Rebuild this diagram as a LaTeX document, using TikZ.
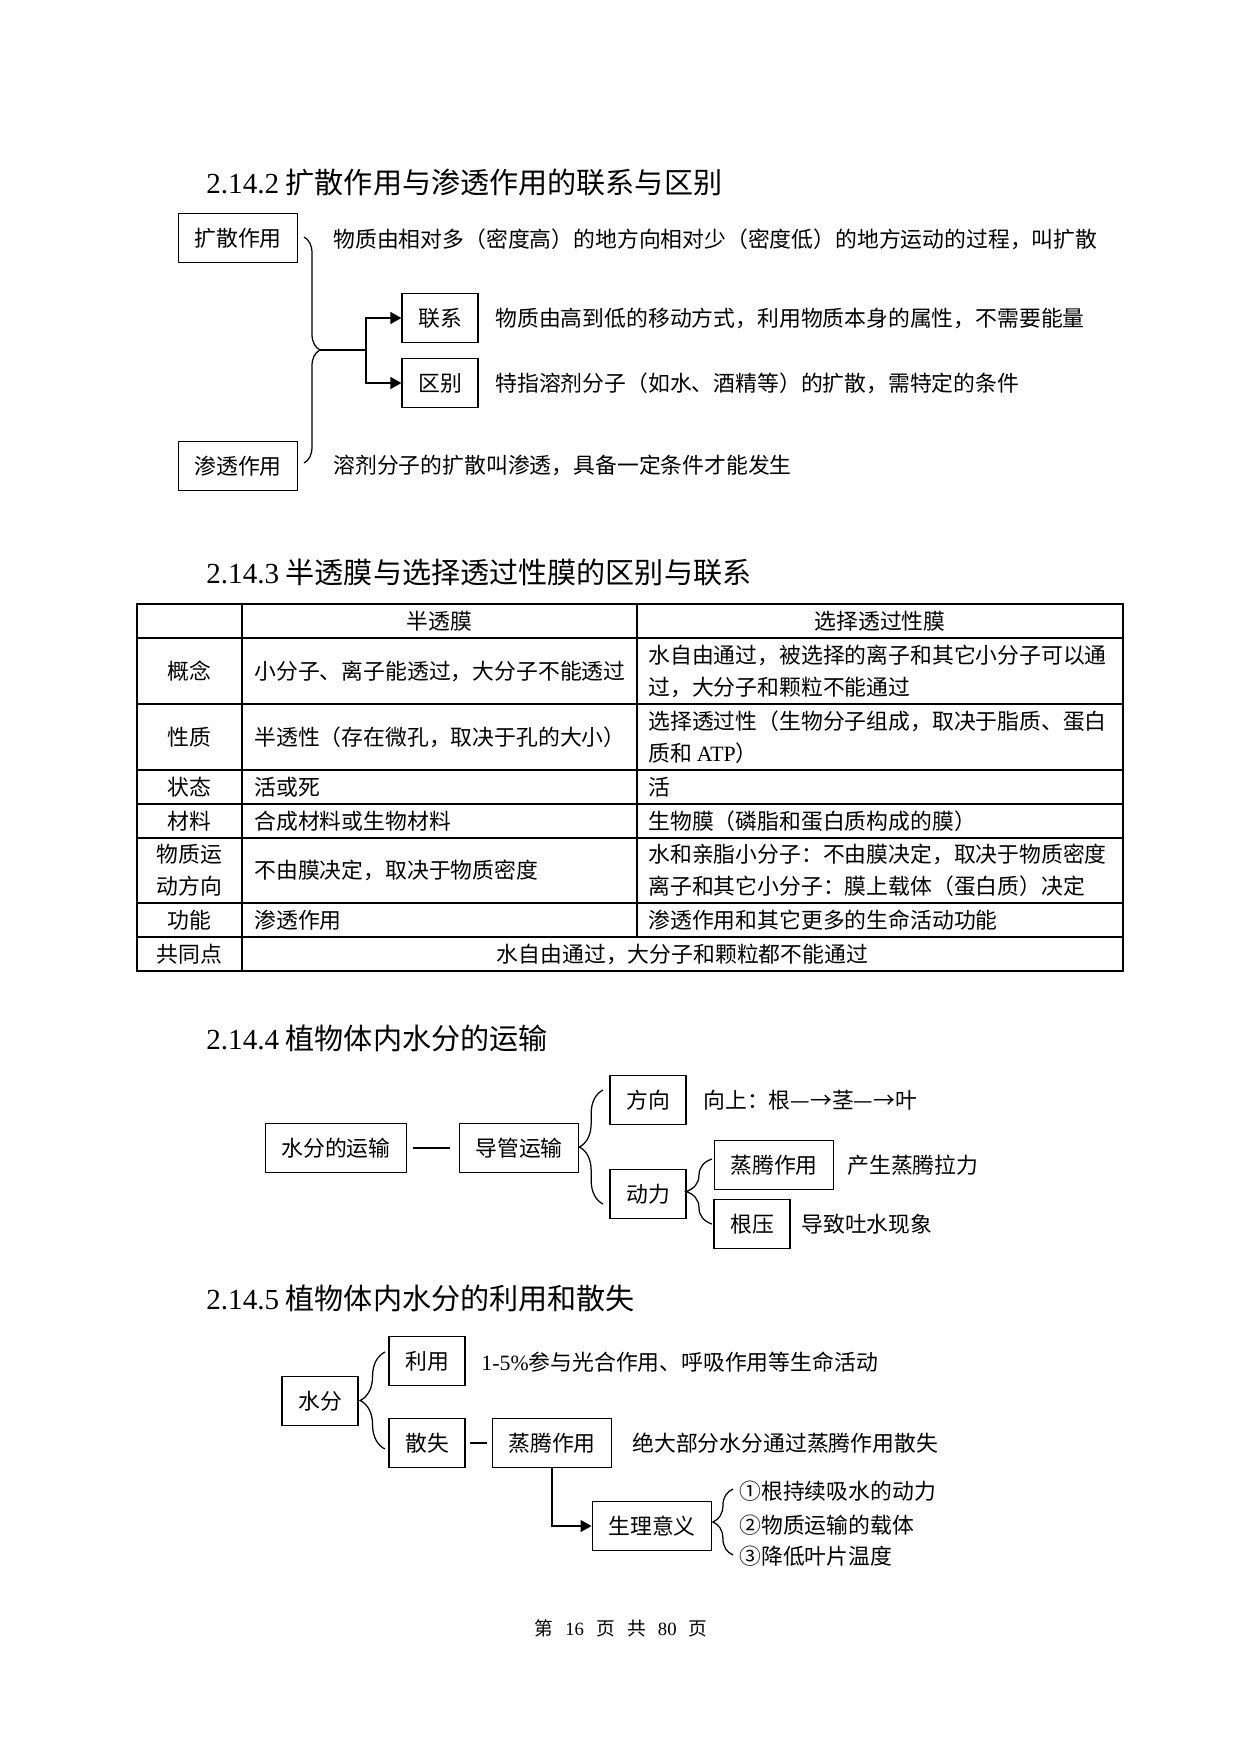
\documentclass[tikz,border=0pt]{standalone}
\usepackage{fontspec}
\setmainfont{Noto Sans CJK SC}
\newfontfamily\tnr{Liberation Serif}
\usetikzlibrary{arrows.meta,decorations.pathreplacing}
\newcommand{\wuhao}{\fontsize{10.5pt}{15.4pt}\selectfont}
\newcommand{\sihao}{\fontsize{14pt}{18pt}\selectfont}

\begin{document}
\begin{tikzpicture}[x=0.016908cm,y=-0.016908cm,
    box/.style={draw,line width=0.75pt,minimum height=0.83cm,inner xsep=0.27cm,inner ysep=0pt,font=\wuhao},
    txt/.style={anchor=west,inner sep=0pt,font=\wuhao},
    ttl/.style={anchor=west,inner sep=0pt,font=\sihao},
    cell/.style={inner sep=0pt,font=\wuhao},
    brc/.style={decorate,decoration={brace,amplitude=#1},line width=0.6pt},
    brc/.default=0.3cm,
    >={Triangle[length=5.3pt,width=5.7pt]}]
\useasboundingbox (0,0) rectangle (1242,1757);

% 2.14.2
\node[ttl] (h1) at (206,182) {{\tnr 2.14.2} 扩散作用与渗透作用的联系与区别};
\begin{scope}[every node/.style=box]
    \node (ks) at (238,238) {扩散作用};
    \node (st) at (238,466) {渗透作用};
    \node (lx) at (440,318) {联系};
    \node (qb) at (440,383) {区别};
\end{scope}
\begin{scope}[every node/.style=txt]
    \node (ks-t) at (333,239) {物质由相对多（密度高）的地方向相对少（密度低）的地方运动的过程，叫扩散};
    \node (lx-t) at (495,318) {物质由高到低的移动方式，利用物质本身的属性，不需要能量};
    \node (qb-t) at (495,383) {特指溶剂分子（如水、酒精等）的扩散，需特定的条件};
    \node (st-t) at (333,465) {溶剂分子的扩散叫渗透，具备一定条件才能发生};
\end{scope}
\coordinate (b1a) at (304,237);
\coordinate (b1b) at (304,463);
\coordinate (b1t) at (320,350);
\coordinate (b1j) at (366,350);
\draw[brc=0.27cm] (b1a) -- (b1b);
\begin{scope}[line width=0.75pt]
    \draw (b1t) -- (b1j);
    \draw[->] (b1j) |- (lx.west);
    \draw[->] (b1j) |- (qb.west);
\end{scope}

% 2.14.3
\node[ttl] (h2) at (206,572) {{\tnr 2.14.3} 半透膜与选择透过性膜的区别与联系};
\begin{scope}[line width=0.6pt]
    \draw (137,604) rectangle (1123,971);
    \foreach \y in {638,704,770,804,838,903,937}
        \draw (137,\y) -- (1123,\y);
    \draw (242,604) -- (242,971);
    \draw (637,604) -- (637,937);
\end{scope}
\begin{scope}[every node/.style=cell]
    \node (m1) at (439.5,621) {半透膜};
    \node (m2) at (880,621) {选择透过性膜};
    \node (k1) at (189.5,671) {概念};
    \node (k2) at (189.5,737) {性质};
    \node (k3) at (189.5,787) {状态};
    \node (k4) at (189.5,821) {材料};
    \node[align=center] (k5) at (189.5,870.5) {物质运\\动方向};
    \node (k6) at (189.5,920) {功能};
    \node (k7) at (189.5,954) {共同点};
\end{scope}
\begin{scope}[every node/.style={cell,anchor=west,align=left}]
    \node (a1) at (254,671) {小分子、离子能透过，大分子不能透过};
    \node (a2) at (254,737) {半透性（存在微孔，取决于孔的大小）};
    \node (a3) at (254,787) {活或死};
    \node (a4) at (254,821) {合成材料或生物材料};
    \node (a5) at (254,870.5) {不由膜决定，取决于物质密度};
    \node (a6) at (254,920) {渗透作用};
    \node (b1) at (648,671) {水自由通过，被选择的离子和其它小分子可以通\\过，大分子和颗粒不能通过};
    \node (b2) at (648,737) {选择透过性（生物分子组成，取决于脂质、蛋白\\质和 {\tnr ATP}）};
    \node (b3) at (648,787) {活};
    \node (b4) at (648,821) {生物膜（磷脂和蛋白质构成的膜）};
    \node (b5) at (648,870.5) {水和亲脂小分子：不由膜决定，取决于物质密度\\离子和其它小分子：膜上载体（蛋白质）决定};
    \node (b6) at (648,920) {渗透作用和其它更多的生命活动功能};
\end{scope}
\node[cell] (c7) at (682.5,954) {水自由通过，大分子和颗粒都不能通过};

% 2.14.4
\node[ttl] (h3) at (206,1038) {{\tnr 2.14.4} 植物体内水分的运输};
\begin{scope}[every node/.style=box]
    \node (sfys) at (336,1148) {水分的运输};
    \node (dgys) at (519,1148) {导管运输};
    \node (fx) at (648,1100) {方向};
    \node (dl) at (648,1194) {动力};
    \node (zt) at (774,1165) {蒸腾作用};
    \node (gy) at (752,1224) {根压};
\end{scope}
\begin{scope}[every node/.style=txt]
    \node (fx-t) at (703,1100) {向上：根—→茎—→叶};
    \node (zt-t) at (847,1165) {产生蒸腾拉力};
    \node (gy-t) at (801,1224) {导致吐水现象};
\end{scope}
\coordinate (b2a) at (603,1204);
\coordinate (b2b) at (603,1090);
\coordinate (b3a) at (712,1224);
\coordinate (b3b) at (712,1159);
\draw[line width=0.75pt,shorten <=0.1cm,shorten >=0.15cm] (sfys) -- (dgys);
\draw[brc=0.4cm] (b2a) -- (b2b);
\draw[brc=0.44cm] (b3a) -- (b3b);

% 2.14.5
\node[ttl] (h4) at (206,1298) {{\tnr 2.14.5} 植物体内水分的利用和散失};
\begin{scope}[every node/.style=box]
    \node (sf) at (320,1401) {水分};
    \node (ly) at (427,1361) {利用};
    \node (ss) at (427,1443) {散失};
    \node (zt2) at (552,1443) {蒸腾作用};
    \node (slyy) at (652,1526) {生理意义};
\end{scope}
\begin{scope}[every node/.style=txt]
    \node (ly-t) at (481,1362) {{\tnr 1-5\%}参与光合作用、呼吸作用等生命活动};
    \node (zt2-t) at (632,1443) {绝大部分水分通过蒸腾作用散失};
    \node (yy1) at (739,1491) {①根持续吸水的动力};
    \node (yy2) at (739,1525) {②物质运输的载体};
    \node (yy3) at (739,1556) {③降低叶片温度};
\end{scope}
\coordinate (b4a) at (385,1449);
\coordinate (b4b) at (385,1352);
\coordinate (b5a) at (733,1555);
\coordinate (b5b) at (733,1489);
\draw[brc=0.42cm] (b4a) -- (b4b);
\draw[brc=0.34cm] (b5a) -- (b5b);
\begin{scope}[line width=0.75pt]
    \draw[shorten <=0.07cm,shorten >=0.085cm] (ss) -- (zt2);
    \draw[->] (zt2.south) |- (slyy.west);
\end{scope}

\node[inner sep=0pt,font=\fontsize{9pt}{11pt}\selectfont] (pg) at (621,1628)
    {第\hspace{0.65em}{\tnr 16}\hspace{0.65em}页\hspace{0.65em}共\hspace{0.65em}{\tnr 80}\hspace{0.65em}页};
\end{tikzpicture}
\end{document}
